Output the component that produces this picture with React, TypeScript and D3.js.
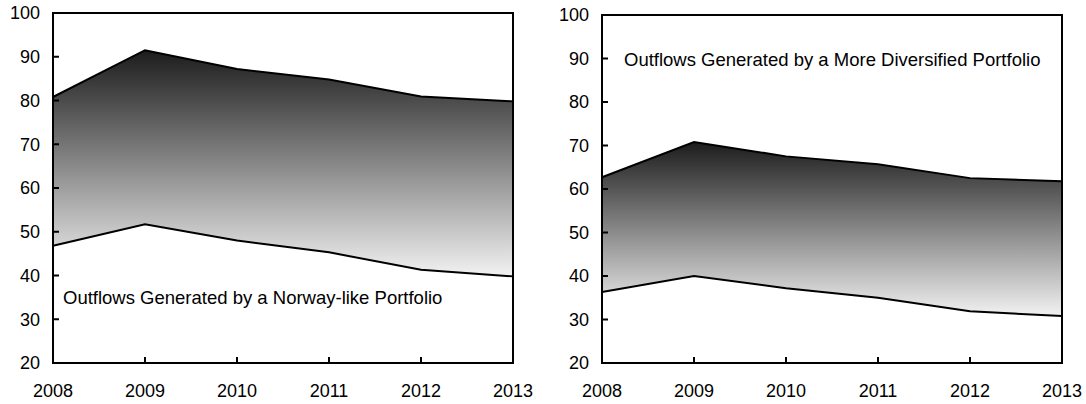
import React from "react";
import * as d3 from "d3";

const years = [2008, 2009, 2010, 2011, 2012, 2013];
const yTicks = [20, 30, 40, 50, 60, 70, 80, 90, 100];

const norwayUpper = [80.8, 91.5, 87.2, 84.8, 80.9, 79.8];
const norwayLower = [46.8, 51.7, 48.0, 45.3, 41.3, 39.8];
const diversifiedUpper = [62.7, 70.8, 67.5, 65.7, 62.5, 61.8];
const diversifiedLower = [36.3, 40.0, 37.2, 35.0, 31.9, 30.8];

const panelTitles = [
  "Outflows Generated by a Norway-like Portfolio",
  "Outflows Generated by a More Diversified Portfolio",
];

const W = 1086;
const H = 404;
const FONT = "'Liberation Sans', Arial, sans-serif";

type Row = { yr: number; hi: number; lo: number };

type PanelProps = {
  id: string;
  left: number;
  right: number;
  top: number;
  bottom: number;
  upper: number[];
  lower: number[];
  title: string;
  titleX: number;
  titleY: number;
};

function Panel({ id, left, right, top, bottom, upper, lower, title, titleX, titleY }: PanelProps) {
  const x = d3.scaleLinear().domain([2008, 2013]).range([left, right]);
  const y = d3.scaleLinear().domain([20, 100]).range([bottom, top]);
  const rows: Row[] = years.map((yr, i) => ({ yr, hi: upper[i], lo: lower[i] }));
  const area = d3
    .area<Row>()
    .x((d) => x(d.yr))
    .y0((d) => y(d.lo))
    .y1((d) => y(d.hi));
  const hiLine = d3
    .line<Row>()
    .x((d) => x(d.yr))
    .y((d) => y(d.hi));
  const loLine = d3
    .line<Row>()
    .x((d) => x(d.yr))
    .y((d) => y(d.lo));
  return (
    <g>
      <defs>
        <linearGradient id={id} x1="0" y1="0" x2="0" y2="1">
          <stop offset="0%" stopColor="#1c1c1c" />
          <stop offset="100%" stopColor="#f2f2f2" />
        </linearGradient>
      </defs>
      <path d={area(rows) || ""} fill={`url(#${id})`} />
      <path d={hiLine(rows) || ""} fill="none" stroke="#000" strokeWidth={2} />
      <path d={loLine(rows) || ""} fill="none" stroke="#000" strokeWidth={2} />
      {/* frame */}
      <rect x={left} y={top} width={right - left} height={bottom - top} fill="none" stroke="#000" strokeWidth={2} />
      {/* y ticks and labels */}
      {yTicks.map((t) => (
        <g key={t}>
          <line x1={left} x2={left + 6} y1={y(t)} y2={y(t)} stroke="#000" strokeWidth={2} />
          <text x={left - 13} y={y(t)} dy="0.36em" textAnchor="end" fontSize={18} fontFamily={FONT} fill="#000">
            {t}
          </text>
        </g>
      ))}
      {/* x ticks and labels */}
      {years.map((yr) => (
        <g key={yr}>
          <line x1={x(yr)} x2={x(yr)} y1={bottom} y2={bottom - 6} stroke="#000" strokeWidth={2} />
          <text x={x(yr)} y={bottom + 34} textAnchor="middle" fontSize={18} fontFamily={FONT} fill="#000">
            {yr}
          </text>
        </g>
      ))}
      <text x={titleX} y={titleY} fontSize={18.5} fontFamily={FONT} fill="#000">
        {title}
      </text>
    </g>
  );
}

export default function App() {
  return (
    <svg
      width={W}
      height={H}
      style={{ position: "absolute", left: 0, top: 0, background: "#fff" }}
    >
      <rect x={0} y={0} width={W} height={H} fill="#fff" />
      <Panel
        id="gradNorway"
        left={53}
        right={513}
        top={13}
        bottom={363}
        upper={norwayUpper}
        lower={norwayLower}
        title={panelTitles[0]}
        titleX={63}
        titleY={304}
      />
      <Panel
        id="gradDiversified"
        left={602}
        right={1062}
        top={15}
        bottom={363}
        upper={diversifiedUpper}
        lower={diversifiedLower}
        title={panelTitles[1]}
        titleX={624}
        titleY={66}
      />
    </svg>
  );
}
